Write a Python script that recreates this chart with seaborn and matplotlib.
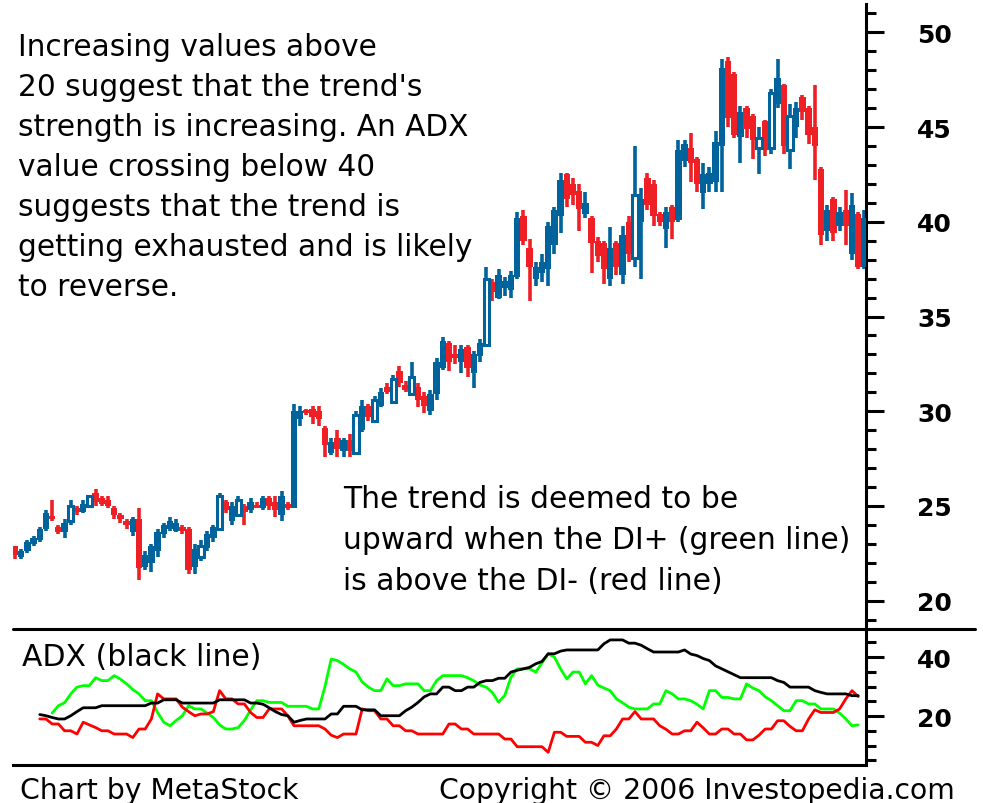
import numpy as np
import pandas as pd
import seaborn as sns
import matplotlib.pyplot as plt
from matplotlib.ticker import MultipleLocator

sns.set_theme(style="white")
plt.rcParams['font.family'] = ['DejaVu Sans']

# price bars (one per session)
opens = [22.9, 22.3, 22.6, 23.0, 23.2, 23.8, 24.4, 23.9, 23.6, 24.2,
         24.9, 24.7, 25.0, 25.7, 25.4, 25.3, 24.9, 24.5, 24.2, 23.6,
         24.3, 21.8, 22.0, 22.6, 23.5, 23.8, 23.7, 23.9, 23.8, 21.8,
         22.3, 22.8, 23.3, 23.8, 25.2, 24.2, 24.5, 25.0, 24.8, 25.0,
         24.9, 25.4, 25.2, 24.5, 25.1, 24.9, 29.6, 30.0, 30.1, 30.0,
         29.1, 27.8, 28.6, 27.9, 28.5, 27.8, 29.0, 30.3, 29.5, 30.3,
         31.3, 30.5, 32.1, 31.4, 30.9, 31.3, 30.8, 30.0, 30.9, 32.3,
         33.6, 33.0, 32.6, 33.4, 32.0, 32.9, 33.5, 36.8, 36.0, 36.5,
         36.4, 37.1, 40.3, 38.6, 37.0, 37.3, 37.5, 38.8, 40.3, 42.5,
         42.0, 41.6, 40.4, 40.2, 39.0, 38.9, 37.0, 38.9, 37.2, 40.0,
         38.1, 40.0, 42.3, 42.0, 40.4, 39.6, 40.8, 40.1, 43.2, 43.9,
         43.3, 41.5, 42.0, 42.1, 44.0, 48.5, 47.8, 44.5, 46.0, 45.6,
         43.9, 45.3, 43.9, 46.2, 47.2, 43.8, 45.0, 46.6, 46.0, 45.0,
         42.8, 39.5, 41.2, 39.8, 40.6, 38.3, 40.4, 37.6]
highs = [22.9, 22.7, 23.2, 23.4, 23.9, 24.8, 25.3, 24.0, 24.3, 25.3,
         25.0, 25.3, 25.6, 25.9, 25.5, 25.5, 25.0, 24.6, 24.3, 24.4,
         24.9, 22.6, 23.0, 23.8, 24.1, 24.4, 24.3, 24.0, 23.9, 23.0,
         23.2, 23.7, 24.0, 25.7, 25.3, 25.2, 25.5, 25.1, 25.4, 25.2,
         25.5, 25.5, 25.5, 25.8, 25.2, 30.4, 30.3, 30.1, 30.3, 30.3,
         29.2, 28.6, 29.0, 28.6, 28.8, 30.0, 30.6, 30.4, 30.8, 31.2,
         31.5, 31.9, 32.4, 31.6, 32.6, 31.5, 31.0, 31.1, 32.8, 33.9,
         33.7, 33.5, 33.5, 33.5, 33.2, 33.8, 37.6, 37.0, 37.5, 37.1,
         37.4, 40.5, 40.6, 39.1, 37.9, 38.3, 40.0, 40.8, 42.6, 42.6,
         42.3, 42.0, 41.6, 40.3, 39.2, 39.0, 39.7, 39.0, 39.8, 40.3,
         44.0, 41.8, 42.6, 42.2, 40.5, 40.8, 40.9, 44.3, 44.3, 44.7,
         43.4, 43.1, 42.9, 44.8, 48.6, 48.7, 47.9, 46.1, 46.1, 45.7,
         45.0, 45.4, 47.0, 48.6, 47.3, 46.2, 46.3, 46.7, 46.1, 47.2,
         42.9, 40.9, 41.3, 40.8, 41.7, 41.5, 40.5, 40.6]
lows = [22.2, 22.2, 22.5, 22.9, 23.1, 23.7, 24.2, 23.5, 23.3, 24.0,
        24.5, 24.6, 24.9, 25.0, 25.0, 24.9, 24.3, 24.1, 23.8, 23.4,
        21.1, 21.6, 21.5, 22.3, 23.3, 23.7, 23.6, 23.5, 21.4, 21.4,
        22.1, 22.6, 23.1, 23.7, 24.6, 24.0, 24.4, 24.0, 24.6, 24.9,
        24.8, 24.8, 24.4, 24.2, 24.8, 24.9, 29.2, 29.8, 29.3, 29.2,
        27.6, 27.7, 27.6, 27.6, 27.6, 27.7, 28.9, 29.5, 29.4, 30.2,
        30.9, 30.4, 31.3, 31.0, 30.8, 30.2, 29.9, 29.8, 30.6, 32.2,
        32.1, 32.5, 32.0, 31.8, 31.2, 32.6, 33.4, 35.8, 35.9, 36.1,
        36.0, 37.0, 38.8, 35.8, 36.6, 36.8, 36.6, 38.3, 39.4, 40.8,
        40.9, 39.5, 40.2, 37.3, 37.9, 36.7, 36.6, 37.2, 36.7, 37.9,
        37.6, 37.0, 40.6, 39.8, 39.8, 38.6, 39.1, 40.0, 42.9, 42.1,
        41.6, 40.7, 41.6, 41.6, 41.6, 45.0, 44.4, 43.1, 44.4, 43.3,
        42.5, 43.5, 43.6, 46.0, 43.6, 42.8, 44.4, 45.4, 44.1, 42.2,
        38.8, 39.0, 39.0, 39.5, 38.8, 38.0, 37.5, 37.5]
closes = [22.4, 22.6, 23.1, 23.3, 23.8, 24.6, 24.3, 23.6, 24.1, 25.0,
          24.7, 25.1, 25.5, 25.2, 25.1, 25.0, 24.5, 24.3, 24.0, 24.3,
          21.7, 22.4, 22.9, 23.6, 24.0, 24.2, 24.1, 23.7, 21.6, 22.7,
          22.9, 23.5, 23.9, 25.5, 24.8, 25.0, 25.3, 24.7, 25.2, 24.9,
          25.4, 25.0, 24.8, 25.5, 24.9, 30.0, 30.0, 29.9, 29.7, 29.6,
          28.2, 28.4, 28.0, 28.5, 27.9, 29.8, 30.3, 29.7, 30.6, 31.0,
          31.0, 31.7, 31.5, 31.1, 31.8, 30.6, 30.3, 30.9, 32.6, 33.7,
          32.6, 32.8, 33.3, 32.3, 33.0, 33.6, 37.0, 36.3, 37.2, 36.9,
          37.2, 40.2, 39.0, 37.6, 37.6, 37.9, 39.8, 40.6, 42.2, 41.2,
          41.4, 40.7, 41.0, 38.9, 38.2, 37.5, 38.6, 37.6, 39.3, 38.3,
          41.4, 41.2, 40.9, 40.3, 40.0, 40.5, 40.0, 43.8, 44.1, 43.1,
          42.0, 42.5, 42.6, 44.2, 48.1, 45.5, 44.6, 45.8, 44.9, 44.3,
          44.4, 43.8, 46.8, 47.6, 44.0, 45.6, 46.0, 45.8, 44.6, 44.0,
          39.3, 40.6, 39.4, 40.5, 39.8, 40.9, 37.6, 40.2]
hollow = [9, 12, 30, 33, 36, 55, 58, 61, 64, 76, 100, 120, 122, 125]

# ADX panel lines
adx_start = 4
adx = [20.5, 20.1, 19.5, 19.0, 19.0, 20.1, 21.5, 22.8, 22.8, 22.8,
       23.5, 23.5, 23.5, 23.5, 23.5, 23.5, 23.5, 23.5, 24.4, 24.4,
       25.5, 25.5, 25.5, 24.4, 24.4, 24.4, 24.4, 24.4, 24.4, 25.5,
       25.5, 25.5, 25.5, 25.5, 24.4, 24.4, 24.0, 22.8, 21.5, 20.5,
       20.1, 17.9, 18.5, 19.0, 19.0, 19.0, 19.0, 20.7, 20.7, 23.3,
       23.3, 23.3, 22.1, 22.1, 22.1, 20.1, 20.1, 20.1, 20.1, 21.8,
       23.0, 24.6, 26.5, 27.5, 27.5, 29.8, 29.8, 28.6, 28.6, 29.8,
       29.8, 31.4, 32.0, 32.0, 32.8, 32.8, 34.9, 35.5, 36.0, 36.5,
       37.7, 38.5, 41.1, 41.1, 42.0, 42.4, 42.4, 42.4, 42.4, 42.4,
       42.4, 44.5, 45.8, 45.8, 45.8, 44.7, 44.7, 44.0, 42.8, 41.7,
       41.7, 41.7, 41.7, 41.7, 42.4, 41.0, 40.5, 39.5, 38.8, 37.0,
       36.0, 35.0, 34.0, 33.0, 33.0, 33.0, 33.0, 33.0, 33.0, 32.0,
       31.4, 29.8, 29.8, 29.8, 29.8, 28.6, 28.0, 27.5, 27.5, 27.5,
       27.5, 26.9, 26.9]
di_plus_start = 6
di_plus = [21.0, 23.5, 24.5, 27.5, 29.8, 30.3, 30.3, 33.0, 32.0, 32.0,
           33.7, 32.5, 30.9, 29.0, 27.5, 25.2, 25.2, 21.2, 17.9, 16.7,
           18.5, 20.1, 23.5, 22.4, 22.4, 21.0, 19.5, 17.0, 15.6, 15.6,
           16.1, 18.5, 22.0, 25.2, 25.2, 24.6, 24.6, 24.6, 23.3, 23.3,
           23.3, 23.3, 22.4, 22.4, 30.0, 39.3, 38.8, 37.5, 36.0, 34.9,
           31.5, 29.8, 28.6, 28.6, 32.6, 30.3, 30.3, 30.9, 30.9, 30.9,
           28.6, 28.6, 32.0, 33.7, 33.7, 33.7, 33.7, 33.0, 32.0, 30.5,
           29.8, 28.0, 24.7, 27.0, 33.2, 36.0, 36.0, 36.0, 34.9, 38.0,
           41.1, 40.0, 36.0, 32.6, 34.9, 34.9, 30.9, 33.7, 30.5, 29.5,
           28.6, 25.8, 24.5, 23.0, 22.4, 22.4, 22.4, 24.1, 24.1, 28.6,
           27.5, 25.8, 25.8, 25.2, 24.0, 22.4, 28.6, 28.6, 26.3, 26.3,
           25.8, 25.8, 30.9, 29.5, 28.6, 26.5, 25.2, 23.5, 21.8, 21.8,
           25.2, 25.2, 24.1, 24.1, 22.4, 22.4, 22.4, 21.0, 19.0, 16.7,
           17.0]
di_minus_start = 4
di_minus = [19.0, 19.0, 17.3, 17.3, 15.0, 15.0, 13.9, 17.9, 17.0, 16.1,
            15.0, 15.0, 13.9, 13.9, 13.9, 12.7, 15.6, 15.6, 19.0, 27.5,
            25.8, 25.8, 25.8, 23.0, 21.5, 20.1, 20.7, 20.7, 21.5, 28.6,
            25.8, 25.8, 24.1, 24.1, 21.2, 19.5, 19.5, 22.4, 22.4, 22.4,
            20.1, 16.7, 16.7, 16.7, 16.7, 16.7, 15.6, 13.5, 12.7, 13.9,
            13.9, 13.9, 22.4, 21.8, 21.8, 19.0, 19.0, 16.7, 16.7, 15.0,
            15.0, 13.9, 13.9, 13.9, 13.9, 13.9, 17.3, 17.3, 15.6, 15.6,
            13.9, 13.9, 13.9, 13.9, 13.9, 12.2, 12.2, 9.6, 9.6, 9.6,
            9.6, 9.6, 7.7, 14.5, 14.5, 13.1, 13.1, 13.1, 11.1, 11.1,
            10.0, 13.3, 13.3, 15.6, 19.0, 19.0, 21.5, 19.0, 19.0, 19.0,
            16.7, 15.5, 13.9, 13.9, 15.0, 15.0, 17.9, 16.0, 13.9, 13.9,
            15.6, 15.6, 13.9, 13.9, 11.9, 11.9, 13.5, 15.6, 15.6, 18.4,
            18.4, 16.5, 15.0, 15.0, 19.0, 22.1, 21.2, 21.2, 21.2, 22.4,
            25.8, 28.6, 26.6]

BLUE = '#00639b'
RED = '#ee2026'
W, H = 983, 804


def box(x0, y0, x1, y1):
    return [x0 / W, 1 - y1 / H, (x1 - x0) / W, (y1 - y0) / H]


fig = plt.figure(figsize=(W / 100, H / 100), dpi=100)
ax = fig.add_axes(box(13, 5, 866, 630))
ax2 = fig.add_axes(box(13, 630, 866, 766))

# candles
o = np.array(opens)
c = np.array(closes)
idx = np.arange(len(c))
cols = np.where(c > o, BLUE, RED)
bottoms = np.minimum(o, c)
heights = np.maximum(np.abs(c - o), 0.15)
ax.vlines(idx, lows, highs, colors=cols, linewidth=2.6, zorder=2)
solid = [i for i in idx if i not in hollow]
ax.bar(idx[solid], heights[solid], bottom=bottoms[solid], width=1.05,
       color=cols[solid], linewidth=0, zorder=3)
ax.bar(idx[hollow], heights[hollow], bottom=bottoms[hollow], width=0.85,
       color='white', edgecolor=cols[hollow], linewidth=2.2, zorder=3)

xlim = (-0.32, 137.26)
ax.set_xlim(*xlim)
ax.set_ylim(18.5, 51.5)

# ADX panel via seaborn
frames = []
for name, start, vals in [('DI+', di_plus_start, di_plus),
                          ('DI-', di_minus_start, di_minus),
                          ('ADX', adx_start, adx)]:
    frames.append(pd.DataFrame({'i': np.arange(start, start + len(vals)),
                                'value': vals, 'line': name}))
df = pd.concat(frames, ignore_index=True)
sns.lineplot(data=df, x='i', y='value', hue='line',
             hue_order=['DI+', 'DI-', 'ADX'],
             palette={'ADX': 'black', 'DI+': '#00ff00', 'DI-': '#ff0000'},
             linewidth=2.0, legend=False, ax=ax2)
ax2.set_xlim(*xlim)
ax2.set_ylim(3.4, 49.5)
ax2.set_xlabel('')
ax2.set_ylabel('')

for a in (ax, ax2):
    a.set_xticks([])
    a.yaxis.tick_right()
    a.spines['left'].set_visible(False)
    a.spines['top'].set_visible(False)
    a.spines['right'].set_linewidth(2.2)
    a.spines['right'].set_color('black')
    a.tick_params(axis='y', which='both', right=True, left=False,
                  direction='out', width=2.2, colors='black')
    a.tick_params(axis='y', which='major', length=13, pad=24, labelsize=18)
    a.tick_params(axis='y', which='minor', length=7)
ax.spines['bottom'].set_visible(False)
ax2.spines['bottom'].set_linewidth(2.2)
ax2.spines['bottom'].set_color('black')

ax.set_yticks([20, 25, 30, 35, 40, 45, 50])
ax.set_yticklabels(['20', '25', '30', '35', '40', '45', '50'], fontweight='bold')
ax.yaxis.set_minor_locator(MultipleLocator(1))
ax2.set_yticks([20, 40])
ax2.set_yticklabels(['20', '40'], fontweight='bold')
ax2.yaxis.set_minor_locator(MultipleLocator(5))

# separator between panels
fig.add_artist(plt.Line2D([13 / W, 975 / W], [1 - 630 / H, 1 - 630 / H],
                          color='black', linewidth=2.2))

# annotations
top_lines = ["Increasing values above",
             "20 suggest that the trend's",
             "strength is increasing. An ADX",
             "value crossing below 40",
             "suggests that the trend is",
             "getting exhausted and is likely",
             "to reverse."]
for k, line in enumerate(top_lines):
    fig.text(18 / W, 1 - (56 + 40 * k) / H, line, fontsize=21.3,
             va='baseline', ha='left', color='black')

mid_lines = ["The trend is deemed to be",
             "upward when the DI+ (green line)",
             "is above the DI- (red line)"]
for k, line in enumerate(mid_lines):
    fig.text(343 / W, 1 - (508 + 41 * k) / H, line, fontsize=21.4,
             va='baseline', ha='left', color='black')

fig.text(22 / W, 1 - 666 / H, "ADX (black line)", fontsize=21.5,
         va='baseline', ha='left', color='black')
fig.text(20 / W, 1 - 799 / H, "Chart by MetaStock", fontsize=20.3,
         va='baseline', ha='left', color='black')
fig.text(955 / W, 1 - 799 / H, "Copyright © 2006 Investopedia.com",
         fontsize=20.3, va='baseline', ha='right', color='black')

fig.savefig('out.png', dpi=100, facecolor='white')
